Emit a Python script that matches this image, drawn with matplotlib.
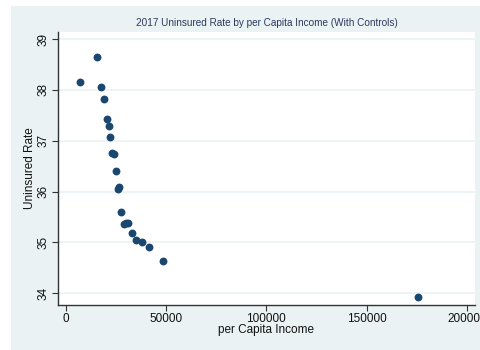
import matplotlib
matplotlib.use("Agg")
import matplotlib.pyplot as plt
from matplotlib.patches import Rectangle

income = [7280, 15600, 17750, 19250, 20440, 21430, 22230, 23230, 24230, 25070,
          25920, 26720, 27720, 28910, 30060, 31210, 32900, 35040, 37890, 41680,
          48500, 175600]
uninsured = [38.15, 38.64, 38.05, 37.82, 37.42, 37.29, 37.08, 36.76, 36.74, 36.41,
             36.05, 36.09, 35.59, 35.37, 35.38, 35.39, 35.19, 35.05, 35.00, 34.91,
             34.63, 33.92]
x_ticks = [0, 50000, 100000, 150000, 200000]
y_ticks = [34, 35, 36, 37, 38, 39]
title = "2017 Uninsured Rate by per Capita Income (With Controls)"

plt.rcParams['font.family'] = ['Liberation Sans', 'DejaVu Sans']

W, H = 480, 350
fig = plt.figure(figsize=(W / 100, H / 100), dpi=100, facecolor='white')
bg = '#EAF2F3'
fig.patches.append(Rectangle((11 / W, 0), 1 - 11 / W, 1 - 6 / H, transform=fig.transFigure,
                             facecolor=bg, edgecolor='none', zorder=-10))

ax = fig.add_axes([58 / W, 1 - 305 / H, (475 - 58) / W, (305 - 32) / H])
ax.set_facecolor('white')
ax.scatter(income, uninsured, s=32, color='#1a476f', zorder=3, linewidths=0)

ax.set_xlim(-3840, 204000)
ax.set_ylim(33.77, 39.14)
ax.set_xticks(x_ticks)
ax.set_xticklabels([str(v) for v in x_ticks])
ax.set_yticks(y_ticks)
ax.set_yticklabels([str(v) for v in y_ticks], rotation=90, va='center')
ax.grid(axis='y', color=bg, linewidth=1.2)
ax.set_axisbelow(True)

for s in ['top', 'right']:
    ax.spines[s].set_visible(False)
for s in ['left', 'bottom']:
    ax.spines[s].set_color('#333333')
    ax.spines[s].set_linewidth(1.0)
ax.tick_params(axis='both', direction='out', length=4, width=0.8, color='#333333',
               labelsize=8.5, labelcolor='#111111', pad=2)

ax.set_xlabel('per Capita Income', fontsize=8.5, color='#111111', va='center')
ax.xaxis.set_label_coords(0.5 * (58 + 475) / W * W / (475 - 58) - 58 / (475 - 58), (305 - 330) / (305 - 32))
ax.set_ylabel('Uninsured Rate', fontsize=8.5, color='#111111', va='center')
ax.yaxis.set_label_coords((30 - 58) / (475 - 58), 0.5)
fig.text(0.5 * (141 + 392) / W, 1 - 23 / H, title, fontsize=7.2, color='#2b3a5c',
         ha='center', va='center')

fig.savefig('out.png', dpi=100, facecolor='white')
